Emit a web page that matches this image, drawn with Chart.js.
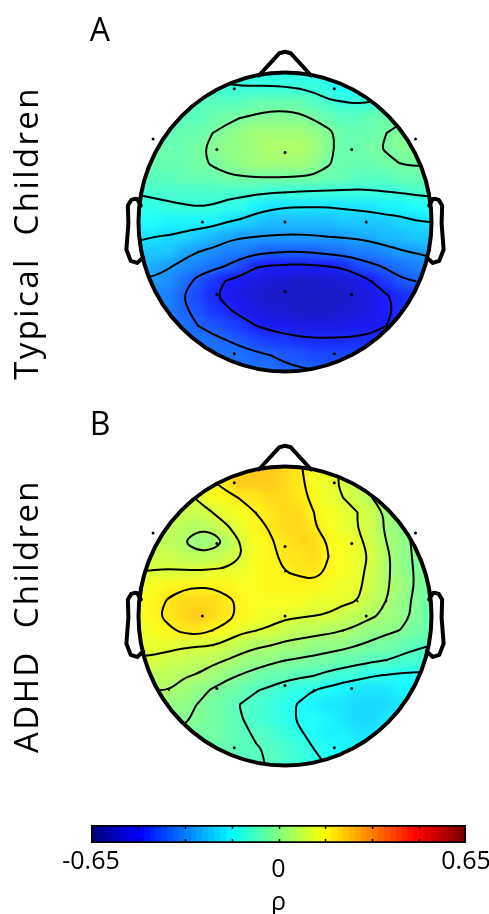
<!DOCTYPE html>
<html>
<head>
<meta charset="utf-8">
<script src="https://cdn.jsdelivr.net/npm/chart.js@4.4.1/dist/chart.umd.min.js"></script>
<style>
  html, body { margin: 0; padding: 0; background: #ffffff; }
  body { width: 489px; height: 914px; position: relative; overflow: hidden; }
  canvas { position: absolute; left: 0; }
  #heatA { filter: blur(4.5px); clip-path: ellipse(146px 149px at 285px 222px); }
  #heatB { filter: blur(4.5px); clip-path: ellipse(146px 149px at 285px 206px); }
</style>
</head>
<body>
<canvas id="heatA" width="489" height="410" style="top:0px"></canvas>
<canvas id="headA" width="489" height="410" style="top:0px"></canvas>
<canvas id="heatB" width="489" height="400" style="top:410px"></canvas>
<canvas id="headB" width="489" height="400" style="top:410px"></canvas>
<canvas id="cbar" width="489" height="104" style="top:810px"></canvas>
<script>
// ---------------- DATA ----------------
const _ = null;
// grid of scalp positions (head radius = 1), columns left->right, rows front(top)->back(bottom)
const gridU = [-1.0,-0.9,-0.8,-0.7,-0.6,-0.5,-0.4,-0.3,-0.2,-0.1,0.0,0.1,0.2,0.3,0.4,0.5,0.6,0.7,0.8,0.9,1.0];
const gridV = [1.0,0.9,0.8,0.7,0.6,0.5,0.4,0.3,0.2,0.1,0.0,-0.1,-0.2,-0.3,-0.4,-0.5,-0.6,-0.7,-0.8,-0.9,-1.0];

// rho values, panel A (Typical Children)
const rhoTypical = [
  [_,_,_,_,_,_,-0.12,-0.13,-0.13,-0.13,-0.13,-0.14,-0.14,-0.15,-0.15,_,_,_,_,_,_],
  [_,_,_,_,-0.09,-0.095,-0.105,-0.105,-0.105,-0.105,-0.107,-0.11,-0.12,-0.135,-0.145,-0.15,-0.145,_,_,_,_],
  [_,_,_,-0.08,-0.08,-0.08,-0.08,-0.07,-0.06,-0.05,-0.05,-0.06,-0.08,-0.10,-0.105,-0.11,-0.105,-0.09,_,_,_],
  [_,_,-0.07,-0.07,-0.065,-0.055,-0.04,-0.028,-0.018,-0.012,-0.01,-0.015,-0.035,-0.05,-0.065,-0.065,-0.055,-0.042,-0.035,_,_],
  [_,-0.07,-0.07,-0.06,-0.05,-0.03,-0.015,0.01,0.025,0.035,0.035,0.03,0.01,-0.02,-0.05,-0.06,-0.05,-0.03,-0.02,-0.015,_],
  [_,-0.06,-0.06,-0.05,-0.04,-0.02,0.0,0.02,0.035,0.045,0.05,0.045,0.025,-0.02,-0.045,-0.055,-0.04,-0.025,-0.015,-0.01,_],
  [-0.06,-0.06,-0.055,-0.05,-0.04,-0.025,-0.01,0.01,0.025,0.035,0.035,0.03,0.01,-0.025,-0.05,-0.06,-0.055,-0.04,-0.028,-0.022,-0.025],
  [-0.075,-0.07,-0.065,-0.06,-0.055,-0.045,-0.038,-0.035,-0.032,-0.031,-0.032,-0.035,-0.04,-0.047,-0.06,-0.07,-0.07,-0.065,-0.06,-0.055,-0.06],
  [-0.105,-0.10,-0.095,-0.09,-0.085,-0.085,-0.09,-0.095,-0.10,-0.105,-0.11,-0.115,-0.118,-0.12,-0.12,-0.12,-0.118,-0.112,-0.108,-0.10,-0.095],
  [-0.13,-0.125,-0.12,-0.115,-0.112,-0.115,-0.13,-0.14,-0.17,-0.19,-0.197,-0.2,-0.2,-0.199,-0.195,-0.19,-0.185,-0.175,-0.165,-0.155,-0.15],
  [-0.16,-0.16,-0.165,-0.17,-0.175,-0.18,-0.2,-0.215,-0.24,-0.245,-0.25,-0.25,-0.25,-0.245,-0.24,-0.235,-0.23,-0.225,-0.22,-0.205,-0.2],
  [-0.19,-0.2,-0.205,-0.215,-0.23,-0.245,-0.27,-0.285,-0.29,-0.295,-0.297,-0.297,-0.295,-0.29,-0.285,-0.28,-0.27,-0.26,-0.25,-0.24,-0.235],
  [-0.23,-0.23,-0.24,-0.265,-0.29,-0.305,-0.33,-0.345,-0.36,-0.37,-0.378,-0.38,-0.37,-0.36,-0.35,-0.34,-0.33,-0.31,-0.295,-0.285,-0.275],
  [-0.25,-0.27,-0.285,-0.31,-0.345,-0.36,-0.385,-0.42,-0.465,-0.475,-0.48,-0.485,-0.48,-0.47,-0.46,-0.42,-0.395,-0.37,-0.35,-0.33,-0.32],
  [-0.3,-0.3,-0.32,-0.35,-0.4,-0.44,-0.475,-0.5,-0.52,-0.535,-0.545,-0.55,-0.55,-0.545,-0.53,-0.515,-0.47,-0.43,-0.39,-0.38,-0.37],
  [_,-0.33,-0.34,-0.38,-0.42,-0.46,-0.49,-0.52,-0.54,-0.555,-0.56,-0.565,-0.565,-0.56,-0.555,-0.54,-0.51,-0.475,-0.45,-0.43,_],
  [_,-0.33,-0.345,-0.37,-0.4,-0.43,-0.46,-0.49,-0.51,-0.53,-0.54,-0.55,-0.55,-0.55,-0.545,-0.535,-0.51,-0.48,-0.455,-0.44,_],
  [_,_,-0.34,-0.36,-0.38,-0.40,-0.42,-0.44,-0.47,-0.49,-0.5,-0.51,-0.515,-0.515,-0.51,-0.505,-0.49,-0.47,-0.455,_,_],
  [_,_,_,-0.34,-0.35,-0.365,-0.38,-0.395,-0.41,-0.43,-0.445,-0.455,-0.46,-0.46,-0.46,-0.455,-0.45,-0.44,_,_,_],
  [_,_,_,_,-0.345,-0.35,-0.355,-0.36,-0.37,-0.38,-0.39,-0.40,-0.41,-0.415,-0.42,-0.42,-0.415,_,_,_,_],
  [_,_,_,_,_,_,-0.35,-0.355,-0.36,-0.365,-0.37,-0.375,-0.38,-0.39,-0.395,_,_,_,_,_,_]
];

// rho values, panel B (ADHD Children)
const rhoADHD = [
  [_,_,_,_,_,_,0.21,0.22,0.23,0.23,0.215,0.185,0.16,0.13,0.11,_,_,_,_,_,_],
  [_,_,_,_,0.15,0.175,0.2,0.225,0.235,0.235,0.22,0.19,0.16,0.13,0.105,0.08,0.055,_,_,_,_],
  [_,_,_,0.1,0.12,0.145,0.165,0.185,0.2,0.22,0.22,0.2,0.165,0.14,0.115,0.09,0.05,0.03,_,_,_],
  [_,_,0.09,0.095,0.1,0.115,0.14,0.16,0.18,0.2,0.215,0.205,0.18,0.155,0.135,0.115,0.085,0.04,0.005,_,_],
  [_,0.085,0.08,0.07,0.06,0.065,0.11,0.14,0.165,0.185,0.205,0.21,0.185,0.155,0.135,0.115,0.085,0.04,0.0,-0.02,_],
  [_,0.08,0.07,0.05,0.02,0.025,0.06,0.12,0.15,0.175,0.195,0.205,0.21,0.175,0.145,0.125,0.1,0.05,0.01,-0.02,_],
  [0.09,0.095,0.09,0.08,0.07,0.075,0.09,0.115,0.145,0.17,0.19,0.2,0.205,0.18,0.155,0.135,0.105,0.06,0.02,-0.02,-0.04],
  [0.115,0.118,0.12,0.12,0.12,0.122,0.125,0.14,0.155,0.17,0.18,0.185,0.19,0.175,0.15,0.13,0.097,0.06,0.02,-0.015,-0.04],
  [0.14,0.15,0.165,0.172,0.177,0.175,0.165,0.16,0.16,0.165,0.17,0.17,0.17,0.16,0.14,0.125,0.092,0.057,0.021,-0.014,-0.04],
  [0.15,0.165,0.185,0.205,0.215,0.21,0.19,0.17,0.16,0.155,0.15,0.145,0.14,0.135,0.125,0.115,0.08,0.05,0.01,-0.02,-0.045],
  [0.15,0.17,0.195,0.22,0.23,0.22,0.195,0.165,0.15,0.135,0.125,0.12,0.115,0.11,0.09,0.075,0.055,0.04,0.005,-0.02,-0.045],
  [0.14,0.155,0.17,0.19,0.2,0.18,0.16,0.125,0.115,0.105,0.085,0.076,0.067,0.06,0.05,0.035,0.017,0.0,-0.012,-0.035,-0.05],
  [0.13,0.13,0.125,0.12,0.118,0.115,0.09,0.073,0.058,0.05,0.036,0.027,0.02,0.013,0.003,-0.01,-0.025,-0.038,-0.05,-0.065,-0.075],
  [0.11,0.105,0.1,0.09,0.079,0.062,0.048,0.03,0.015,0.002,-0.01,-0.017,-0.025,-0.036,-0.045,-0.055,-0.066,-0.075,-0.09,-0.1,-0.11],
  [0.075,0.07,0.065,0.058,0.045,0.027,0.004,-0.013,-0.03,-0.044,-0.054,-0.063,-0.073,-0.09,-0.103,-0.12,-0.135,-0.142,-0.147,-0.15,-0.15],
  [_,0.05,0.05,0.023,0.008,-0.015,-0.036,-0.054,-0.072,-0.085,-0.106,-0.122,-0.14,-0.155,-0.175,-0.185,-0.19,-0.19,-0.18,-0.17,_],
  [_,0.03,0.02,0.005,-0.012,-0.035,-0.058,-0.078,-0.09,-0.105,-0.125,-0.145,-0.165,-0.185,-0.2,-0.21,-0.215,-0.21,-0.195,-0.18,_],
  [_,_,0.0,-0.005,-0.018,-0.035,-0.055,-0.073,-0.09,-0.105,-0.125,-0.145,-0.162,-0.18,-0.195,-0.205,-0.205,-0.195,-0.18,_,_],
  [_,_,_,-0.02,-0.03,-0.04,-0.05,-0.065,-0.08,-0.095,-0.11,-0.135,-0.15,-0.165,-0.18,-0.185,-0.185,-0.18,_,_,_],
  [_,_,_,_,-0.04,-0.048,-0.056,-0.064,-0.072,-0.08,-0.1,-0.12,-0.14,-0.155,-0.165,-0.17,-0.17,_,_,_,_],
  [_,_,_,_,_,_,-0.06,-0.066,-0.072,-0.077,-0.09,-0.105,-0.125,-0.145,-0.155,_,_,_,_,_,_]
];

// contour levels
const contourLevelsTypical = [-0.47, -0.38, -0.29, -0.20, -0.11, -0.03];
const contourLevelsADHD = [-0.14, -0.075, -0.01, 0.05, 0.115, 0.18];

// electrode sites (10-20 system)
const electrodeNames = ['Fp1','Fp2','F7','F3','Fz','F4','F8','C3','Cz','C4','P3','Pz','P4','O1','O2'];
const electrodeU = [-0.35, 0.34, -0.91, -0.47, 0.0, 0.46, 0.90, -0.57, 0.0, 0.56, -0.47, 0.0, 0.46, -0.35, 0.34];
const electrodeV = [0.90, 0.90, 0.56, 0.49, 0.47, 0.49, 0.56, 0.0, 0.0, 0.0, -0.49, -0.47, -0.49, -0.89, -0.89];

// colour scale
const RHO_MIN = -0.65, RHO_MAX = 0.65;
const colorbarTicks = [-0.65, 0, 0.65];
const colorbarTickLabels = ['-0.65', '0', '0.65'];
const colorbarMinorTicks = [-0.4875, -0.325, -0.1625, 0, 0.1625, 0.325, 0.4875];
const colorbarTitle = 'ρ';

const panelLetters = ['A', 'B'];
const panelGroups = ['Typical  Children', 'ADHD  Children'];

// ---------------- STYLE / LAYOUT ----------------
const FONT = '"Open Sans", "Noto Sans", "DejaVu Sans", sans-serif';
const N_COLORS = 64;
const PX_PER_UNIT_X = 145, PX_PER_UNIT_Y = 148;
const HEAD_CX = 285;
const PAGE_W = 489;

function jetRGB(rho) {
  const t0 = (rho - RHO_MIN) / (RHO_MAX - RHO_MIN);
  const idx = Math.min(N_COLORS - 1, Math.max(0, Math.floor(t0 * N_COLORS)));
  const t = idx / (N_COLORS - 1);
  const f = x => Math.min(1, Math.max(0, 1.5 - Math.abs(4 * t - x)));
  return [f(3), f(2), f(1)];
}
function css(c, white) {
  const m = v => Math.round(255 * (v * (1 - white) + white));
  return 'rgb(' + m(c[0]) + ',' + m(c[1]) + ',' + m(c[2]) + ')';
}

// head outline shape (EEGLAB topoplot convention, head radius = 1)
const NOSE_U = [0.18, 0.04, 0, -0.04, -0.18];
const NOSE_V = [0.99, 1.14, 1.15, 1.14, 0.99];
const EAR_U = [0.994, 1.020, 1.036, 1.0598, 1.0838, 1.080, 1.094, 1.064, 1.020, 0.978];
const EAR_V = [0.111, 0.155, 0.1566, 0.1492, 0.111, -0.011, -0.1864, -0.2626, -0.2768, -0.2398];

function headEllipse(ctx, xs, ys, extra) {
  const cx = xs.getPixelForValue(0), cy = ys.getPixelForValue(0);
  const rx = xs.getPixelForValue(1) - cx, ry = cy - ys.getPixelForValue(1);
  ctx.beginPath();
  ctx.ellipse(cx, cy, rx + extra, ry + extra, 0, 0, Math.PI * 2);
}

// marching squares on the read grid, segments chained into paths
function contourPaths(values, L) {
  const segs = [];
  const cross = (p, q) => {
    let A = p, B = q;
    if (A[0] > B[0] || (A[0] === B[0] && A[1] > B[1])) { A = q; B = p; }
    const t = (L - A[2]) / (B[2] - A[2]);
    return [A[0] + t * (B[0] - A[0]), A[1] + t * (B[1] - A[1])];
  };
  for (let i = 0; i < gridV.length - 1; i++) {
    for (let j = 0; j < gridU.length - 1; j++) {
      const a = values[i][j], b = values[i][j + 1], c = values[i + 1][j + 1], d = values[i + 1][j];
      if (a === null || b === null || c === null || d === null) continue;
      const corners = [[gridU[j], gridV[i], a], [gridU[j + 1], gridV[i], b],
                       [gridU[j + 1], gridV[i + 1], c], [gridU[j], gridV[i + 1], d]];
      const pts = [];
      for (let e = 0; e < 4; e++) {
        const p = corners[e], q = corners[(e + 1) % 4];
        if ((p[2] >= L) !== (q[2] >= L)) pts.push(cross(p, q));
      }
      if (pts.length === 2) segs.push([pts[0], pts[1]]);
      else if (pts.length === 4) {
        const centre = (a + b + c + d) / 4;
        if ((centre >= L) === (a >= L)) { segs.push([pts[0], pts[1]]); segs.push([pts[2], pts[3]]); }
        else { segs.push([pts[3], pts[0]]); segs.push([pts[1], pts[2]]); }
      }
    }
  }
  const key = p => p[0].toFixed(6) + ',' + p[1].toFixed(6);
  const adj = new Map();
  segs.forEach((s, idx) => s.forEach(p => {
    const k = key(p);
    if (!adj.has(k)) adj.set(k, []);
    adj.get(k).push(idx);
  }));
  const used = new Array(segs.length).fill(false);
  const paths = [];
  for (let s0 = 0; s0 < segs.length; s0++) {
    if (used[s0]) continue;
    used[s0] = true;
    const path = [segs[s0][0], segs[s0][1]];
    for (let pass = 0; pass < 2; pass++) {
      let grow = true;
      while (grow) {
        grow = false;
        const end = path[path.length - 1], ek = key(end);
        for (const si of (adj.get(ek) || [])) {
          if (used[si]) continue;
          used[si] = true;
          const s = segs[si];
          path.push(key(s[0]) === ek ? s[1] : s[0]);
          grow = true;
          break;
        }
      }
      path.reverse();
    }
    paths.push(path);
  }
  return paths;
}

function strokeSmooth(ctx, pts) {
  const n = pts.length;
  if (n < 2) return;
  const closed = n > 3 && Math.hypot(pts[0][0] - pts[n - 1][0], pts[0][1] - pts[n - 1][1]) < 0.01;
  ctx.beginPath();
  if (closed) {
    const m = n - 1;
    const mid = (p, q) => [(p[0] + q[0]) / 2, (p[1] + q[1]) / 2];
    const s = mid(pts[m - 1], pts[0]);
    ctx.moveTo(s[0], s[1]);
    for (let k = 0; k < m; k++) {
      const q = mid(pts[k], pts[(k + 1) % m]);
      ctx.quadraticCurveTo(pts[k][0], pts[k][1], q[0], q[1]);
    }
    ctx.closePath();
  } else {
    ctx.moveTo(pts[0][0], pts[0][1]);
    for (let k = 1; k < n - 1; k++) {
      const q = [(pts[k][0] + pts[k + 1][0]) / 2, (pts[k][1] + pts[k + 1][1]) / 2];
      ctx.quadraticCurveTo(pts[k][0], pts[k][1], q[0], q[1]);
    }
    ctx.lineTo(pts[n - 1][0], pts[n - 1][1]);
  }
  ctx.stroke();
}

function makeTopoPlugin(values, levels, letter, group, groupV) {
  return {
    id: 'topo',
    afterDatasetsDraw(chart) {
      const ctx = chart.ctx, xs = chart.scales.x, ys = chart.scales.y;
      // contours
      ctx.save();
      headEllipse(ctx, xs, ys, 0);
      ctx.clip();
      ctx.strokeStyle = '#000';
      ctx.lineWidth = 2;
      ctx.lineCap = 'round';
      ctx.lineJoin = 'round';
      for (const L of levels) {
        for (const path of contourPaths(values, L)) {
          strokeSmooth(ctx, path.map(p => [xs.getPixelForValue(p[0]), ys.getPixelForValue(p[1])]));
        }
      }
      ctx.restore();
      // head outline
      ctx.save();
      ctx.strokeStyle = '#000';
      ctx.lineJoin = 'round';
      ctx.lineCap = 'round';
      ctx.lineWidth = 4;
      headEllipse(ctx, xs, ys, 1.5);
      ctx.stroke();
      ctx.beginPath();
      NOSE_U.forEach((u, k) => {
        const x = xs.getPixelForValue(u), y = ys.getPixelForValue(NOSE_V[k]);
        k ? ctx.lineTo(x, y) : ctx.moveTo(x, y);
      });
      ctx.stroke();
      for (const side of [-1, 1]) {
        ctx.beginPath();
        EAR_U.forEach((u, k) => {
          const x = xs.getPixelForValue(side * u), y = ys.getPixelForValue(EAR_V[k]);
          k ? ctx.lineTo(x, y) : ctx.moveTo(x, y);
        });
        ctx.stroke();
      }
      // labels
      ctx.fillStyle = '#000';
      ctx.textAlign = 'center';
      ctx.textBaseline = 'middle';
      ctx.font = '32px ' + FONT;
      ctx.fillText(letter, xs.getPixelForValue(-1.276), ys.getPixelForValue(1.284));
      ctx.translate(xs.getPixelForValue(-1.77), ys.getPixelForValue(groupV));
      ctx.rotate(-Math.PI / 2);
      ctx.font = '33px ' + FONT;
      if ('letterSpacing' in ctx) ctx.letterSpacing = '2.4px';
      ctx.fillText(group, 0, 0);
      ctx.restore();
    }
  };
}

function scaleOptions(canvasH, centreY) {
  return {
    x: { type: 'linear', display: false, min: -HEAD_CX / PX_PER_UNIT_X, max: (PAGE_W - HEAD_CX) / PX_PER_UNIT_X },
    y: { type: 'linear', display: false, min: -(canvasH - centreY) / PX_PER_UNIT_Y, max: centreY / PX_PER_UNIT_Y }
  };
}
const baseOptions = { responsive: false, animation: false, events: [], devicePixelRatio: 1,
  layout: { padding: 0, autoPadding: false },
  plugins: { legend: { display: false }, tooltip: { enabled: false } } };

function makeHead(heatId, headId, values, levels, letter, group, groupV, canvasH, centreY) {
  const cells = [];
  values.forEach((row, i) => row.forEach((rho, j) => {
    if (rho !== null) cells.push({ x: gridU[j], y: gridV[i], rho: rho });
  }));
  // colour cells (one square per read grid value)
  new Chart(document.getElementById(heatId), {
    type: 'scatter',
    data: { datasets: [{
      label: 'rho', data: cells, pointStyle: 'rect', pointBorderWidth: 0,
      pointRadius: (ctx) => {
        const ys = ctx.chart.scales.y;
        const step = Math.abs(gridV[0] - gridV[1]);
        return (Math.abs(ys.getPixelForValue(0) - ys.getPixelForValue(step)) + 1.2) / Math.SQRT2;
      },
      pointBackgroundColor: (ctx) => ctx.raw ? css(jetRGB(ctx.raw.rho), 0.1) : '#fff'
    }] },
    options: Object.assign({}, baseOptions, { scales: scaleOptions(canvasH, centreY) })
  });
  // electrodes, contours, head outline, labels
  const electrodes = electrodeU.map((u, k) => ({ x: u, y: electrodeV[k], name: electrodeNames[k] }));
  new Chart(document.getElementById(headId), {
    type: 'scatter',
    data: { datasets: [{ label: 'electrodes', data: electrodes, pointRadius: 1.5,
      pointBackgroundColor: '#000', pointBorderWidth: 0, pointStyle: 'circle' }] },
    options: Object.assign({}, baseOptions, { scales: scaleOptions(canvasH, centreY) }),
    plugins: [makeTopoPlugin(values, levels, letter, group, groupV)]
  });
}

makeHead('heatA', 'headA', rhoTypical, contourLevelsTypical, panelLetters[0], panelGroups[0], -0.074, 410, 222);
makeHead('heatB', 'headB', rhoADHD, contourLevelsADHD, panelLetters[1], panelGroups[1], 0.0, 400, 206);

// ---------------- COLOUR BAR ----------------
const cbarTicksPlugin = {
  id: 'cbarTicks',
  afterDatasetsDraw(chart) {
    const ctx = chart.ctx, xs = chart.scales.x, area = chart.chartArea;
    ctx.save();
    ctx.strokeStyle = '#000';
    ctx.lineWidth = 1.5;
    ctx.beginPath();
    for (const v of colorbarMinorTicks) {
      const x = Math.round(xs.getPixelForValue(v)) + 0.5;
      ctx.moveTo(x, area.top + 1); ctx.lineTo(x, area.top + 4);
      ctx.moveTo(x, area.bottom - 1); ctx.lineTo(x, area.bottom - 4);
    }
    ctx.stroke();
    ctx.restore();
  }
};

new Chart(document.getElementById('cbar'), {
  type: 'bar',
  data: {
    labels: [colorbarTitle],
    datasets: [{
      data: [[RHO_MIN, RHO_MAX]],
      backgroundColor: (ctx) => {
        const chart = ctx.chart, xs = chart.scales.x;
        if (!xs || !chart.chartArea) return '#888';
        const x0 = xs.getPixelForValue(RHO_MIN), x1 = xs.getPixelForValue(RHO_MAX);
        const g = chart.ctx.createLinearGradient(x0, 0, x1, 0);
        for (let k = 0; k < N_COLORS; k++) {
          const rho = RHO_MIN + (k + 0.5) / N_COLORS * (RHO_MAX - RHO_MIN);
          const c = css(jetRGB(rho), 0);
          g.addColorStop(k / N_COLORS, c);
          g.addColorStop((k + 1) / N_COLORS, c);
        }
        return g;
      },
      borderColor: '#000', borderWidth: 2, borderSkipped: false,
      barPercentage: 1, categoryPercentage: 1
    }]
  },
  options: {
    indexAxis: 'y', responsive: false, animation: false, events: [], devicePixelRatio: 1,
    layout: { padding: { left: 91, right: 23, top: 15, bottom: 0 }, autoPadding: false },
    scales: {
      x: {
        type: 'linear', min: RHO_MIN, max: RHO_MAX, position: 'bottom',
        grid: { display: false, drawTicks: false }, border: { display: false },
        afterBuildTicks: (s) => { s.ticks = colorbarTicks.map(v => ({ value: v })); },
        afterFit: (s) => { s.height = 71; s.paddingLeft = 0; s.paddingRight = 0; },
        ticks: {
          autoSkip: false, maxRotation: 0, padding: 4, color: '#000',
          font: (ctx) => ({ family: FONT, size: 25, lineHeight: ctx.index === 1 ? 1.84 : 1.2 }),
          callback: (v, i) => colorbarTickLabels[i]
        },
        title: { display: true, text: colorbarTitle, color: '#000',
          font: { family: FONT, size: 25, lineHeight: 0.9 }, padding: { top: 0, bottom: 0 } }
      },
      y: { display: false }
    },
    plugins: { legend: { display: false }, tooltip: { enabled: false } }
  },
  plugins: [cbarTicksPlugin]
});
</script>
</body>
</html>
